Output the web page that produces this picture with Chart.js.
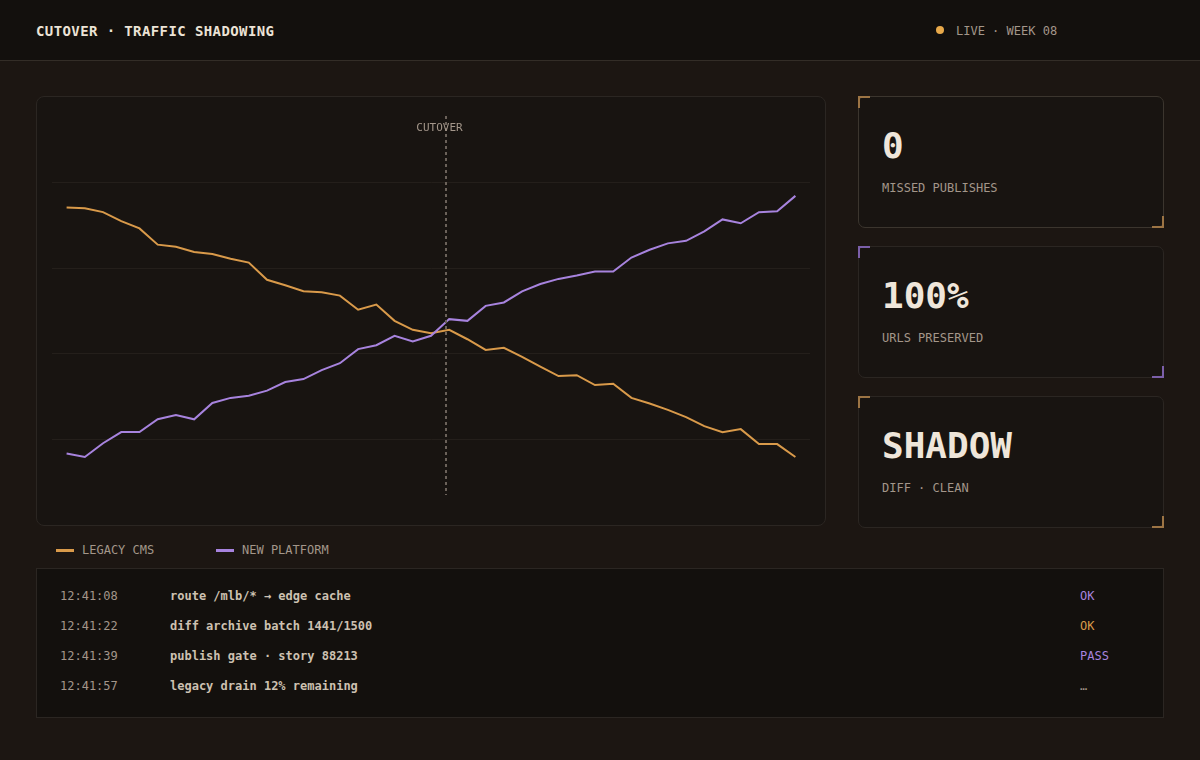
<!DOCTYPE html>
<html>

<head>
    <meta charset="utf-8">
    <title>Cutover · Traffic Shadowing</title>
    <script src="https://cdn.jsdelivr.net/npm/chart.js"></script>
    <style>
        body {
            margin: 0;
            width: 1200px;
            height: 760px;
            background: #1c1612;
            font-family: "DejaVu Sans Mono", "Liberation Mono", monospace;
            position: relative;
            overflow: hidden;
        }

        .header {
            position: absolute;
            left: 0;
            top: 0;
            width: 1200px;
            height: 60px;
            background: #13100d;
            border-bottom: 1px solid #332d27;
        }

        .title {
            position: absolute;
            left: 36px;
            top: 24px;
            font-size: 14px;
            line-height: 14px;
            font-weight: bold;
            letter-spacing: 0.4px;
            color: #ece3d6;
        }

        .live {
            position: absolute;
            left: 956px;
            top: 25px;
            font-size: 12px;
            line-height: 12px;
            color: #a3968a;
        }

        .live .dot {
            position: absolute;
            left: -20px;
            top: 1px;
            width: 8px;
            height: 8px;
            border-radius: 50%;
            background: #e8a94a;
        }

        .chartCard {
            position: absolute;
            left: 36px;
            top: 96px;
            width: 790px;
            height: 430px;
            box-sizing: border-box;
            border: 1px solid #2b2622;
            border-radius: 8px;
            background: #181411;
        }

        .chartBox {
            position: absolute;
            left: 15px;
            top: 0;
            width: 758px;
            height: 428px;
        }

        .stat {
            position: absolute;
            left: 858px;
            width: 306px;
            height: 132px;
            box-sizing: border-box;
            border: 1px solid #2b2622;
            border-radius: 7px;
            background: #181411;
        }

        .stat.active {
            border-color: #3b352e;
        }

        .stat .big {
            position: absolute;
            left: 23px;
            top: 31px;
            font-size: 36px;
            line-height: 36px;
            font-weight: bold;
            color: #efe6da;
        }

        .stat .label {
            position: absolute;
            left: 23px;
            top: 85px;
            font-size: 12px;
            line-height: 12px;
            color: #a3968a;
        }

        .corner {
            position: absolute;
            width: 12px;
            height: 12px;
            box-sizing: border-box;
        }

        .corner.tl {
            left: -1px;
            top: -1px;
            border-left: 2px solid;
            border-top: 2px solid;
        }

        .corner.br {
            right: -1px;
            bottom: -1px;
            border-right: 2px solid;
            border-bottom: 2px solid;
        }

        .legend {
            position: absolute;
            left: 56px;
            top: 544px;
        }

        .legend .item {
            position: absolute;
            top: 0;
            width: 160px;
            font-size: 12px;
            line-height: 12px;
            color: #a3968a;
        }

        .legend .swatch {
            position: absolute;
            left: 0;
            top: 4.5px;
            width: 18px;
            height: 3px;
        }

        .legend .text {
            position: absolute;
            left: 26px;
            top: 0;
            white-space: nowrap;
        }

        .log {
            position: absolute;
            left: 36px;
            top: 568px;
            width: 1128px;
            height: 150px;
            box-sizing: border-box;
            border: 1px solid #2b2622;
            background: #13100d;
        }

        .log .row {
            position: absolute;
            left: 0;
            width: 100%;
            height: 12px;
            font-size: 12px;
            line-height: 12px;
        }

        .log .time {
            position: absolute;
            left: 23px;
            color: #a3968a;
        }

        .log .msg {
            position: absolute;
            left: 133px;
            color: #cdc1b1;
            font-weight: 600;
            white-space: nowrap;
        }

        .log .status {
            position: absolute;
            left: 1043px;
        }
    </style>
</head>

<body>
    <div class="header">
        <div class="title">CUTOVER · TRAFFIC SHADOWING</div>
        <div class="live"><span class="dot"></span>LIVE · WEEK 08</div>
    </div>

    <!-- main chart -->
    <div class="chartCard">
        <div class="chartBox">
            <canvas id="trafficChart"></canvas>
        </div>
    </div>

    <!-- stat cards, legend and log get filled in below -->
    <div id="stats"></div>
    <div class="legend" id="legend"></div>
    <div class="log" id="log"></div>

    <script>
        // x categories: sample slots across the shadowing window
        var slots = ['01', '02', '03', '04', '05', '06', '07', '08', '09', '10',
            '11', '12', '13', '14', '15', '16', '17', '18', '19', '20',
            '21', '22', '23', '24', '25', '26', '27', '28', '29', '30',
            '31', '32', '33', '34', '35', '36', '37', '38', '39', '40', '41'];

        // share of traffic (%) served by each side
        var legacyCms = [74.2, 74.0, 73.1, 71.0, 69.3, 65.5, 65.0, 63.8, 63.3, 62.2,
            61.3, 57.3, 56.0, 54.6, 54.4, 53.6, 50.3, 51.5, 47.7, 45.6,
            44.8, 45.6, 43.4, 40.9, 41.4, 39.3, 37.0, 34.8, 35.0, 32.7,
            33.0, 29.7, 28.4, 26.9, 25.2, 23.1, 21.7, 22.4, 18.9, 18.9, 15.9];
        var newPlatform = [16.7, 15.9, 19.1, 21.7, 21.7, 24.7, 25.7, 24.7, 28.5, 29.7,
            30.2, 31.4, 33.4, 34.1, 36.2, 37.8, 41.1, 42.0, 44.2, 42.9,
            44.2, 48.1, 47.7, 51.2, 52.0, 54.6, 56.3, 57.5, 58.3, 59.2,
            59.2, 62.5, 64.3, 65.8, 66.4, 68.6, 71.4, 70.5, 73.1, 73.3, 76.9];

        var seriesNames = ['LEGACY CMS', 'NEW PLATFORM'];
        var seriesColors = ['#d99a4a', '#a783de'];

        // y gridlines, and where the cutover marker sits on the x axis
        var gridTicks = [20, 40, 60, 80];
        var yMin = 0;
        var yMax = 100;
        var cutoverAt = 20.85;

        var stats = [
            { value: '0', label: 'MISSED PUBLISHES', accent: '#9c7444', active: true },
            { value: '100%', label: 'URLS PRESERVED', accent: '#7b5fa9', active: false },
            { value: 'SHADOW', label: 'DIFF · CLEAN', accent: '#9c7444', active: false }
        ];

        var logTimes = ['12:41:08', '12:41:22', '12:41:39', '12:41:57'];
        var logMessages = ['route /mlb/* → edge cache', 'diff archive batch 1441/1500',
            'publish gate · story 88213', 'legacy drain 12% remaining'];
        var logStatus = ['OK', 'OK', 'PASS', '…'];
        var logStatusColors = ['#a783de', '#d99a4a', '#a783de', '#a3968a'];

        // dotted cutover marker with its label
        var cutoverLine = {
            id: 'cutoverLine',
            afterDatasetsDraw: function (chart) {
                var ctx = chart.ctx;
                var area = chart.chartArea;
                var x = Math.round(chart.scales.x.getPixelForValue(cutoverAt));
                ctx.save();
                ctx.strokeStyle = '#6b625a';
                ctx.lineWidth = 2;
                ctx.setLineDash([3, 3]);
                ctx.beginPath();
                ctx.moveTo(x, area.top + 19);
                ctx.lineTo(x, area.bottom - 30);
                ctx.stroke();
                ctx.setLineDash([]);
                ctx.fillStyle = '#a3968a';
                ctx.font = '11px "DejaVu Sans Mono"';
                ctx.textAlign = 'center';
                ctx.textBaseline = 'middle';
                ctx.fillText('CUTOVER', x - 6.5, area.top + 31);
                ctx.restore();
            }
        };

        function yAxis(position) {
            return {
                position: position,
                min: yMin,
                max: yMax,
                afterBuildTicks: function (scale) {
                    scale.ticks = gridTicks.map(function (v) { return { value: v }; });
                },
                ticks: { display: false },
                border: { display: false },
                grid: {
                    color: '#241f1b',
                    lineWidth: 1,
                    drawTicks: true,
                    tickLength: 14.6,
                    drawOnChartArea: position === 'left'
                }
            };
        }

        var ctx = document.getElementById('trafficChart').getContext('2d');
        var trafficChart = new Chart(ctx, {
            type: 'line',
            data: {
                labels: slots,
                datasets: [{
                    label: seriesNames[0],
                    data: legacyCms,
                    borderColor: seriesColors[0],
                    borderWidth: 2,
                    pointRadius: 0,
                    tension: 0,
                    order: 1
                }, {
                    label: seriesNames[1],
                    data: newPlatform,
                    borderColor: seriesColors[1],
                    borderWidth: 2,
                    pointRadius: 0,
                    tension: 0,
                    order: 0
                }]
            },
            options: {
                responsive: true,
                maintainAspectRatio: false,
                animation: false,
                layout: { padding: 0, autoPadding: false },
                plugins: {
                    legend: { display: false },
                    tooltip: { enabled: false }
                },
                scales: {
                    x: { display: false, offset: false },
                    y: yAxis('left'),
                    y2: yAxis('right')
                }
            },
            plugins: [cutoverLine]
        });

        // stat cards
        var statsHtml = '';
        stats.forEach(function (s, i) {
            statsHtml += '<div class="stat' + (s.active ? ' active' : '') + '" style="top:' + (96 + i * 150) + 'px">' +
                '<div class="corner tl" style="border-color:' + s.accent + '"></div>' +
                '<div class="corner br" style="border-color:' + s.accent + '"></div>' +
                '<div class="big">' + s.value + '</div>' +
                '<div class="label">' + s.label + '</div></div>';
        });
        document.getElementById('stats').innerHTML = statsHtml;

        // legend under the chart
        var legendHtml = '';
        seriesNames.forEach(function (name, i) {
            legendHtml += '<div class="item" style="left:' + (i * 160) + 'px">' +
                '<span class="swatch" style="background:' + seriesColors[i] + '"></span>' +
                '<span class="text">' + name + '</span></div>';
        });
        document.getElementById('legend').innerHTML = legendHtml;

        // event log
        var logHtml = '';
        logTimes.forEach(function (t, i) {
            logHtml += '<div class="row" style="top:' + (21 + i * 30) + 'px">' +
                '<span class="time">' + t + '</span>' +
                '<span class="msg">' + logMessages[i] + '</span>' +
                '<span class="status" style="color:' + logStatusColors[i] + '">' + logStatus[i] + '</span></div>';
        });
        document.getElementById('log').innerHTML = logHtml;
    </script>
</body>

</html>
